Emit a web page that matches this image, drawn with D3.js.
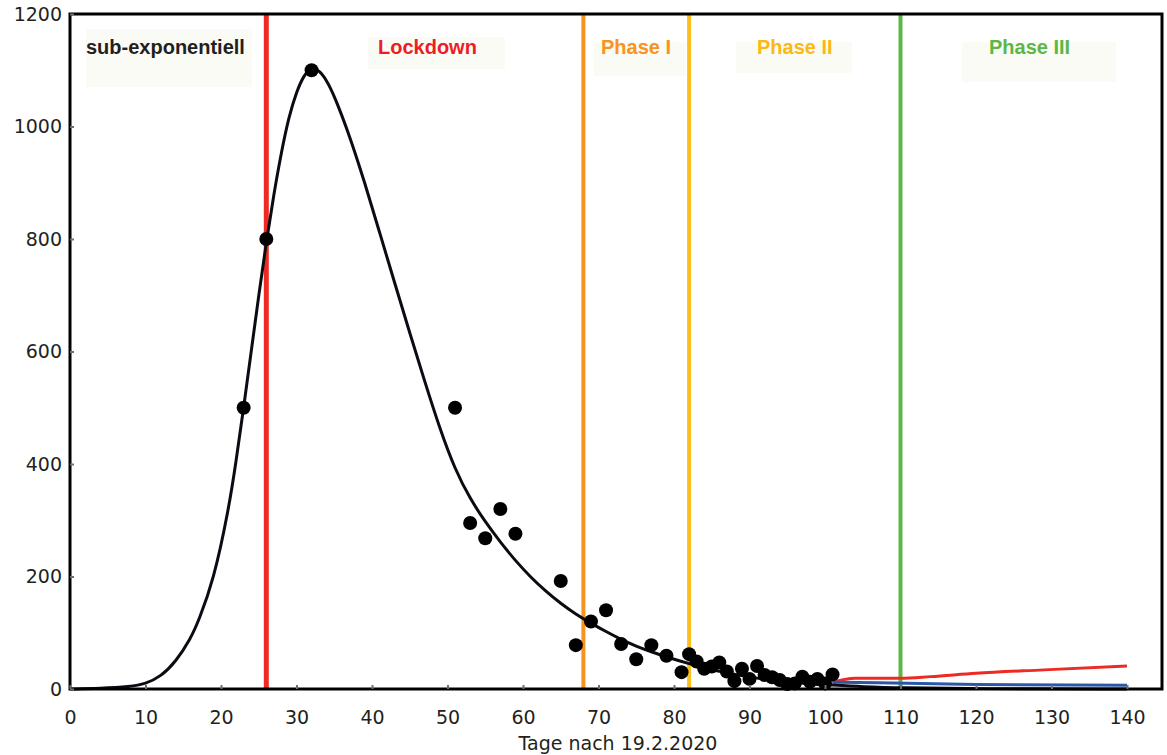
<!DOCTYPE html>
<html>
<head>
<meta charset="utf-8">
<script src="https://cdnjs.cloudflare.com/ajax/libs/d3/7.8.5/d3.min.js"></script>
<style>
    body { margin: 0; background: #fff; }
</style>
</head>
<body>
<script>
// gemeldete Fälle (Punkte)
var days = [23, 26, 32, 51, 53, 55, 57, 59, 65, 67, 69, 71, 73, 75, 77, 79, 81, 82, 83, 84, 85, 86, 87, 88, 89, 90, 91, 92, 93, 94, 95, 96, 97, 98, 99, 100, 101];
var cases = [500, 800, 1100, 500, 295, 268, 320, 276, 192, 78, 120, 140, 80, 53, 78, 59, 30, 62, 49, 36, 40, 47, 31, 14, 36, 18, 41, 25, 21, 16, 9, 10, 22, 13, 18, 10, 26];

// Modellkurve
var fitDays = [0, 4, 8, 10, 12, 14, 16, 17, 19, 21, 22, 23, 24, 25, 26, 27, 28, 29, 30, 31, 32, 33, 34, 35, 37, 39, 41, 43, 45, 47, 49, 51, 53, 55, 57, 59, 61, 63, 65, 67, 69, 71, 73, 75, 77, 79, 82, 85, 88, 91, 94, 97, 101, 105, 110, 120, 140];
var fitValues = [0, 1, 4, 9, 22, 48, 90, 120, 192, 318, 405, 500, 600, 700, 795, 880, 955, 1018, 1062, 1092, 1105, 1100, 1082, 1055, 985, 902, 812, 722, 633, 546, 462, 390, 338, 297, 261, 228, 199, 174, 152, 133, 117, 102, 88, 76, 66, 57, 45, 34, 26, 19, 14, 10, 7, 4, 2, 0.5, 0];

// Prognosen
var redDays = [101, 104, 110, 114, 120, 129, 140];
var redValues = [12, 19, 19, 22, 28, 34, 41];
var blueDays = [101, 107, 120, 140];
var blueValues = [12, 11, 8, 6.5];

var phaseDays = [26, 68, 82, 110];
var phaseNames = ['sub-exponentiell', 'Lockdown', 'Phase I', 'Phase II', 'Phase III'];
var xTicks = [0, 10, 20, 30, 40, 50, 60, 70, 80, 90, 100, 110, 120, 130, 140];
var yTicks = [0, 200, 400, 600, 800, 1000, 1200];
var xTitle = 'Tage nach 19.2.2020';

function drawChart() {
    var width = 1167;
    var height = 755;
    var left = 70, right = 1162, top = 14, bottom = 689;

    var phaseColors = ['#ee2a24', '#f7931e', '#fdbf1a', '#5bb847'];
    var labelColors = ['#231f20', '#ee1c25', '#f7931e', '#fcb813', '#5bb847'];
    // Kästchen der Phasenbeschriftung: [x, y, w, h, textX]
    var boxes = [
        [86, 29, 166, 58, 86],
        [368, 37, 137, 32, 378],
        [594, 42, 92, 34, 601],
        [736, 42, 116, 31, 757],
        [962, 42, 154, 40, 989]
    ];

    var x = d3.scaleLinear().domain([0, 140]).range([left, 1127]);
    var y = d3.scaleLinear().domain([0, 1200]).range([bottom, top]);

    var svg = d3.select('body')
        .append('svg')
        .attr('width', width)
        .attr('height', height);

    for (let i = 0; i < boxes.length; i++) {
        svg.append('rect')
            .attr('x', boxes[i][0])
            .attr('y', boxes[i][1])
            .attr('width', boxes[i][2])
            .attr('height', boxes[i][3])
            .attr('fill', '#fbfbf6');

        svg.append('text')
            .attr('x', boxes[i][4])
            .attr('y', 54)
            .attr('fill', labelColors[i])
            .attr('font-family', 'Liberation Sans, Arial, sans-serif')
            .attr('font-weight', 'bold')
            .attr('font-size', 20)
            .text(phaseNames[i]);
    }

    for (let i = 0; i < phaseDays.length; i++) {
        svg.append('line')
            .attr('x1', x(phaseDays[i]))
            .attr('x2', x(phaseDays[i]))
            .attr('y1', top)
            .attr('y2', bottom)
            .attr('stroke', phaseColors[i])
            .attr('stroke-width', i == 0 ? 5 : 4);
    }

    var line = d3.line()
        .x(function (d) { return x(d[0]); })
        .y(function (d) { return y(d[1]); })
        .curve(d3.curveMonotoneX);

    svg.append('path')
        .attr('d', line(d3.zip(redDays, redValues)))
        .attr('fill', 'none')
        .attr('stroke', '#ee2a24')
        .attr('stroke-width', 3);

    svg.append('path')
        .attr('d', line(d3.zip(blueDays, blueValues)))
        .attr('fill', 'none')
        .attr('stroke', '#2b58a6')
        .attr('stroke-width', 3);

    svg.append('path')
        .attr('d', line.curve(d3.curveBasis)(d3.zip(fitDays, fitValues)))
        .attr('fill', 'none')
        .attr('stroke', '#0b0b14')
        .attr('stroke-width', 3);

    svg.selectAll('circle.pt')
        .data(d3.zip(days, cases))
        .enter()
        .append('circle')
        .attr('class', 'pt')
        .attr('cx', function (d) { return x(d[0]); })
        .attr('cy', function (d) { return y(d[1]); })
        .attr('r', 7)
        .attr('fill', '#000');

    // Rahmen
    svg.append('rect')
        .attr('x', left)
        .attr('y', top)
        .attr('width', right - left)
        .attr('height', bottom - top)
        .attr('fill', 'none')
        .attr('stroke', '#000')
        .attr('stroke-width', 3);

    var xAxis = svg.append('g')
        .attr('transform', 'translate(0,' + bottom + ')')
        .call(d3.axisBottom(x).tickValues(xTicks).tickFormat(d3.format('d'))
            .tickSizeInner(-4).tickSizeOuter(0).tickPadding(22));

    var yAxis = svg.append('g')
        .attr('transform', 'translate(' + left + ',0)')
        .call(d3.axisLeft(y).tickValues(yTicks).tickFormat(d3.format('d'))
            .tickSizeInner(-4).tickSizeOuter(0).tickPadding(8));

    [xAxis, yAxis].forEach(function (g) {
        g.select('.domain').remove();
        g.selectAll('.tick line')
            .attr('stroke', '#6d6e71')
            .attr('stroke-width', 2);
        g.selectAll('.tick text')
            .attr('fill', '#231f20')
            .attr('font-family', 'DejaVu Sans, sans-serif')
            .attr('font-size', 19);
    });

    svg.append('text')
        .attr('x', 618)
        .attr('y', 750)
        .attr('text-anchor', 'middle')
        .attr('fill', '#231f20')
        .attr('font-family', 'DejaVu Sans, sans-serif')
        .attr('font-size', 19)
        .text(xTitle);
}

drawChart();
</script>
</body>
</html>
